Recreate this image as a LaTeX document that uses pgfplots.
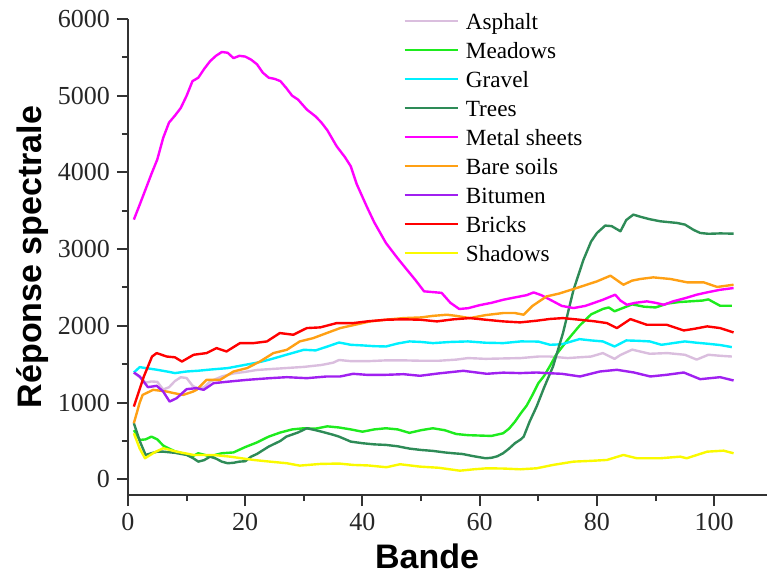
\documentclass[border=0pt]{standalone}
\usepackage{pgfplots}
\pgfplotsset{compat=1.18}
\usepackage{fontspec}
\setmainfont{Liberation Serif}
\newfontfamily\labfont{Liberation Sans}

\definecolor{asphalt}{RGB}{218,190,222}
\definecolor{meadows}{RGB}{30,235,30}
\definecolor{gravel}{RGB}{0,240,255}
\definecolor{trees}{RGB}{46,139,87}
\definecolor{metal}{RGB}{255,0,255}
\definecolor{soils}{RGB}{255,160,20}
\definecolor{bitumen}{RGB}{160,32,240}
\definecolor{bricks}{RGB}{255,0,0}
\definecolor{shadows}{RGB}{250,250,0}

\begin{document}
\begin{tikzpicture}
\begin{axis}[
  name=ax,
  scale only axis, width=319.5pt, height=238pt,
  xmin=0, xmax=109, ymin=-205, ymax=6000,
  axis lines=left, axis line style={-, line width=1pt, black!80},
  tick align=outside, major tick length=5.5pt, minor tick length=3pt,
  tick style={line width=1pt, black!80},
  xtick={0,20,...,100}, ytick={0,1000,...,6000},
  minor x tick num=1, minor y tick num=1,
  /pgf/number format/assume math mode=true,
  /pgf/number format/set thousands separator={},
  ticklabel style={font=\fontsize{13}{15}\selectfont, text=black!85},
  xlabel={\labfont\bfseries Bande}, ylabel={\labfont\bfseries Réponse spectrale},
  label style={font=\fontsize{17}{19}\selectfont},
  xlabel style={at={(axis description cs:0.468,-0.128)}, anchor=center},
  ylabel style={yshift=-2pt},
  legend style={draw=none, fill=none, at={(axis cs:45.9,6130)}, anchor=north west,
    font=\fontsize{11.6}{13}\selectfont, row sep=4pt,
    nodes={inner sep=0pt, text height=8pt, text depth=2.5pt}},
  legend cell align=left,
  legend image code/.code={\draw[#1] (0pt,1.5pt) -- (26.5pt,1.5pt); \path (30pt,1.5pt);},
  every axis plot/.append style={line width=1.2pt, line join=round},
]
\addplot[asphalt] coordinates {(1,1390) (2,1330) (3,1260) (4,1275) (5,1270) (6,1170) (7,1200) (8,1280) (9,1330) (10,1320) (11,1220) (12,1180) (13,1200) (14,1275) (16,1340) (18,1380) (20,1400) (22,1425) (25,1440) (28,1455) (30,1465) (33,1490) (35,1520) (36,1555) (38,1540) (41,1540) (44,1550) (47,1550) (50,1545) (53,1545) (56,1560) (58,1580) (61,1570) (64,1575) (67,1580) (70,1600) (72,1600) (75,1580) (79,1600) (81,1645) (83,1570) (84,1620) (86,1690) (89,1636) (92,1645) (95,1623) (97,1560) (99,1623) (101,1610) (103,1600)};
\addlegendentry{Asphalt}
\addplot[meadows] coordinates {(1,640) (2,513) (3,520) (4,556) (5,520) (6,440) (7,400) (8,365) (9,345) (10,320) (11,300) (12,339) (13,320) (14,295) (15,320) (16,339) (18,350) (20,420) (22,480) (24,556) (26,610) (28,650) (30,665) (32,660) (34,690) (36,675) (38,650) (40,620) (42,650) (44,665) (46,650) (48,605) (50,640) (52,665) (54,640) (56,590) (58,575) (60,570) (62,565) (64,600) (65,660) (66,750) (67,860) (68,960) (69,1100) (70,1253) (71,1350) (72,1480) (73,1620) (75,1818) (77,2000) (79,2150) (81,2220) (82,2240) (83,2190) (84,2220) (86,2280) (88,2250) (90,2240) (92,2290) (94,2310) (96,2320) (98,2330) (99,2345) (101,2262) (103,2262)};
\addlegendentry{Meadows}
\addplot[gravel] coordinates {(1,1392) (2,1462) (3,1450) (5,1427) (7,1400) (8,1384) (10,1405) (12,1415) (14,1430) (17,1449) (20,1492) (22,1520) (24,1557) (27,1623) (30,1688) (32,1680) (34,1730) (36,1783) (38,1753) (40,1745) (42,1735) (44,1731) (46,1770) (48,1797) (50,1790) (52,1775) (55,1790) (58,1797) (61,1780) (64,1775) (67,1797) (70,1795) (72,1753) (74,1760) (77,1827) (79,1810) (81,1797) (83,1731) (85,1810) (87,1805) (89,1797) (91,1753) (93,1775) (95,1797) (97,1780) (99,1766) (101,1750) (103,1723)};
\addlegendentry{Gravel}
\addplot[trees] coordinates {(1,731) (2,500) (3,317) (4,340) (5,360) (6,360) (8,345) (10,317) (11,280) (12,230) (13,250) (14,295) (15,270) (16,230) (17,209) (18,215) (19,230) (20,235) (21,295) (22,330) (24,426) (26,500) (27,556) (29,610) (30.5,665) (32,640) (33,621) (35,580) (36,556) (38,491) (40,470) (42,455) (44,448) (46,430) (48,400) (50,382) (52,370) (54,350) (55.5,339) (57,330) (59,300) (61,274) (62,280) (63,300) (64,340) (65,400) (66,470) (67,520) (67.5,556) (68.5,750) (69.7,948) (71,1200) (72.5,1470) (74.2,1906) (76,2471) (77.7,2863) (79,3100) (80,3211) (81.4,3307) (82.5,3300) (84,3233) (85,3380) (86.2,3450) (87.5,3420) (89,3390) (90.8,3363) (92.5,3350) (93.6,3342) (95,3320) (96.5,3250) (97.6,3211) (99,3200) (101,3205) (103.3,3202)};
\addlegendentry{Trees}
\addplot[metal] coordinates {(1,3385) (2,3580) (3,3780) (4,3980) (5,4170) (6,4450) (7,4650) (8,4740) (9,4840) (10,5000) (11,5190) (12,5235) (13,5350) (14,5450) (15,5520) (16,5570) (17,5560) (18,5490) (19,5520) (20,5510) (21,5470) (22,5410) (23,5300) (24,5235) (25,5220) (26,5190) (27,5100) (28,5000) (29,4950) (30.5,4820) (32,4730) (33,4650) (34,4550) (35.6,4340) (37,4200) (38,4080) (39,3850) (40.7,3560) (42,3350) (44,3080) (46,2880) (47.6,2730) (49,2600) (50.5,2450) (52,2440) (53.5,2430) (55,2300) (56.5,2220) (58,2230) (60,2270) (62,2300) (64,2340) (66.9,2384) (68,2400) (69.2,2436) (70.5,2400) (72,2341) (74,2260) (76,2232) (78,2260) (79.4,2297) (81,2340) (83.1,2406) (84,2330) (85.1,2275) (86.5,2300) (88.5,2319) (90,2300) (91.4,2275) (93,2320) (95,2360) (97,2406) (99,2440) (101,2470) (103.3,2493)};
\addlegendentry{Metal sheets}
\addplot[soils] coordinates {(1,731) (2,1000) (2.5,1100) (4.3,1166) (6.6,1144) (8,1120) (9.4,1100) (11,1140) (11.7,1166) (13.4,1296) (15.7,1296) (18,1405) (20.3,1449) (22.5,1535) (24.8,1645) (27.1,1688) (29.3,1797) (31.6,1840) (33.9,1906) (36.2,1971) (38.5,2010) (41.3,2058) (44,2080) (47,2101) (50,2110) (52,2130) (54.4,2145) (56,2130) (58.3,2101) (61,2140) (64,2167) (66,2167) (67.5,2145) (69,2260) (71.4,2384) (73.5,2420) (76,2480) (78,2530) (80,2580) (82.3,2654) (84.5,2536) (86,2590) (87.4,2611) (89.6,2632) (92.5,2611) (95.4,2567) (98.2,2567) (100.5,2507) (103.3,2536)};
\addlegendentry{Bare soils}
\addplot[bitumen] coordinates {(1,1392) (2,1340) (3.4,1201) (4.9,1218) (6,1144) (7.1,1013) (8.3,1057) (10,1175) (11.7,1188) (12.9,1166) (14.6,1253) (17.4,1275) (20.3,1296) (24.2,1318) (27.1,1331) (30.5,1318) (33.9,1340) (36.2,1340) (38.4,1375) (41,1360) (44.1,1362) (47,1370) (49.8,1349) (53,1380) (57.2,1414) (61.2,1375) (64,1390) (66.9,1384) (69.7,1392) (71.4,1384) (74,1375) (77.1,1340) (80.5,1405) (83.4,1427) (86.3,1392) (89.1,1340) (91.9,1362) (94.8,1392) (97.6,1305) (101,1331) (103.3,1288)};
\addlegendentry{Bitumen}
\addplot[bricks] coordinates {(1,948) (2.7,1339) (4.1,1600) (4.9,1645) (6.6,1600) (8,1590) (9.2,1535) (11.2,1623) (13.4,1645) (15.1,1710) (16.8,1666) (19.1,1775) (21.4,1775) (23.7,1797) (25.9,1906) (28.2,1884) (30.5,1971) (32.8,1980) (35.6,2036) (38.4,2036) (41,2060) (44.1,2080) (47,2085) (49.8,2080) (52.7,2058) (55.5,2085) (58.3,2101) (61,2080) (64,2058) (66.9,2045) (69.7,2067) (72,2090) (74.2,2101) (77,2080) (79.5,2060) (81.7,2036) (83.4,1971) (85.7,2088) (88.5,2014) (91.9,2014) (94.8,1940) (96.5,1960) (98.8,1993) (101,1971) (103.3,1914)};
\addlegendentry{Bricks}
\addplot[shadows] coordinates {(1,600) (2,400) (2.9,274) (4.5,350) (6,405) (8.3,360) (11.2,317) (14.6,317) (17.4,295) (21.4,252) (24.2,230) (27.1,209) (29.3,178) (32.8,200) (36,205) (38.4,187) (41,180) (44.1,157) (46.4,196) (49.8,165) (53,150) (56.6,112) (59,130) (61.2,143) (64,140) (66.9,130) (69.7,143) (72.5,187) (76,230) (79,240) (81.7,252) (84.5,317) (86.8,274) (90.8,274) (94.2,295) (95.3,274) (98.8,360) (101.6,373) (103.3,339)};
\addlegendentry{Shadows}
\end{axis}
\pgfresetboundingbox
\path[use as bounding box] ([shift={(-64pt,-39.5pt)}]ax.south west) rectangle ([shift={(0pt,9.5pt)}]ax.north east);
\end{tikzpicture}
\end{document}
